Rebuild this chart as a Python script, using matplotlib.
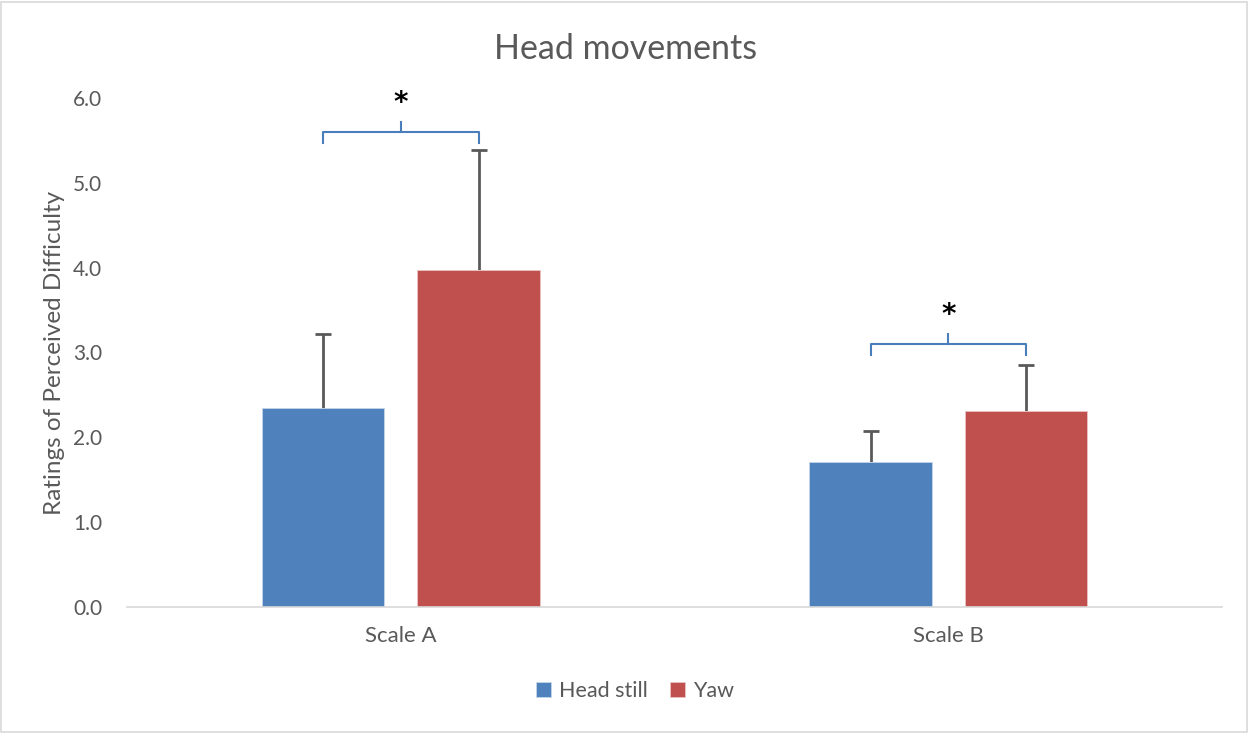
import numpy as np
import matplotlib
matplotlib.use("Agg")
import matplotlib.pyplot as plt
from matplotlib.patches import Rectangle

# data
categories = ["Scale A", "Scale B"]
head_still = [2.35, 1.71]
head_still_err = [0.87, 0.36]
yaw = [3.97, 2.31]
yaw_err = [1.42, 0.54]

# significance brackets: (category index, bracket height)
sig_pairs = [(0, 5.60), (1, 3.10)]

plt.rcParams['font.family'] = ['Lato', 'DejaVu Sans']
txt = "#595959"

fig = plt.figure(figsize=(12.49, 7.33), dpi=100)
ax = fig.add_axes([0.1017, 0.1719, 0.8767, 0.6944])

x = np.arange(len(categories))
w = 0.223
off = 0.142
ax.bar(x - off, head_still, w, color="#4F81BD", edgecolor="#c5d5ea", linewidth=0.6,
       label="Head still", zorder=2)
ax.bar(x + off, yaw, w, color="#C0504D", edgecolor="#e8c4c3", linewidth=0.6,
       label="Yaw", zorder=2)

#upper error bars only
for xs, vals, errs in [(x - off, head_still, head_still_err), (x + off, yaw, yaw_err)]:
    tops = np.array(vals) + np.array(errs)
    ax.vlines(xs, vals, tops, color="#595959", lw=2, zorder=1)
    ax.plot(xs, tops, ls="none", marker="_", ms=12, mew=2, color="#595959", zorder=1)

ax.set_xlim(-0.5, 1.5)
ax.set_ylim(0, 6)
ax.set_yticks(np.arange(0, 6.01, 1.0))
ax.set_yticklabels([f"{v:.1f}" for v in np.arange(0, 6.01, 1.0)])
ax.set_xticks(x)
ax.set_xticklabels(categories)
ax.tick_params(axis="both", length=0, labelsize=15, colors=txt)
ax.tick_params(axis="x", labelsize=16, pad=14)
ax.tick_params(axis="y", pad=18)
for s in ["top", "right", "left"]:
    ax.spines[s].set_visible(False)
ax.spines["bottom"].set_color("#d9d9d9")
ax.spines["bottom"].set_linewidth(1.2)

ax.set_ylabel("Ratings of Perceived Difficulty", fontsize=17.5, color=txt, labelpad=6)
ax.set_title("Head movements", fontsize=24.5, color=txt, pad=28, x=0.455)

# brackets with stars
for i, h in sig_pairs:
    x0, x1 = i - off, i + off
    bc = "#4a7ebb"
    ax.plot([x0, x0, x1, x1], [h - 0.13, h, h, h - 0.13], color=bc, lw=1.5,
            clip_on=False, solid_joinstyle="round")
    ax.plot([i, i], [h, h + 0.12], color=bc, lw=1.5, clip_on=False)
    ax.text(i, h + 0.34, "*", ha="center", va="center", fontsize=20,
            fontweight="bold", color="black", clip_on=False, family="DejaVu Sans")

leg = ax.legend(loc="center", bbox_to_anchor=(0.464, -0.165), ncol=2, frameon=False,
                fontsize=15.5, handlelength=0.7, handleheight=0.7, handletextpad=0.4,
                columnspacing=1.0)
for t in leg.get_texts():
    t.set_color(txt)

fig.patches.append(Rectangle((0.001, 0.002), 0.997, 0.995, transform=fig.transFigure,
                             fill=False, edgecolor="#d9d9d9", linewidth=1.2))

fig.savefig("out.png", dpi=100)
